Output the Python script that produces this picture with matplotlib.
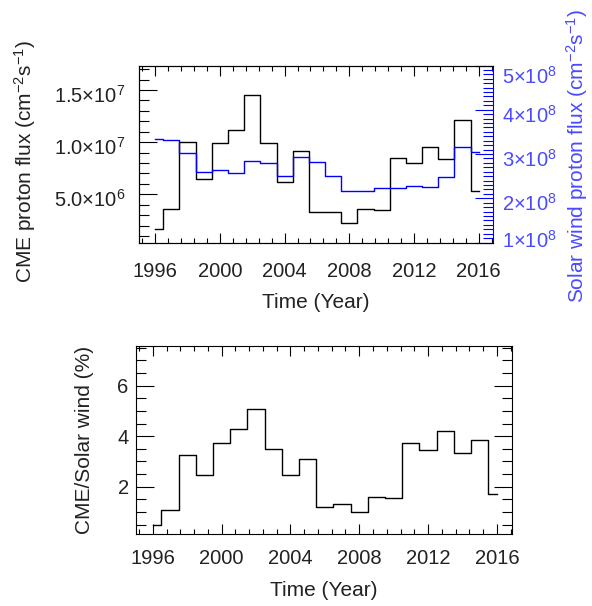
import matplotlib
matplotlib.use("Agg")
import matplotlib.pyplot as plt
from matplotlib.ticker import FixedLocator, FixedFormatter, MultipleLocator
from matplotlib.transforms import ScaledTranslation

plt.rcParams["font.family"] = ["Liberation Sans", "DejaVu Sans"]
plt.rcParams["mathtext.fontset"] = "custom"
plt.rcParams["mathtext.rm"] = "Liberation Sans"
plt.rcParams["mathtext.it"] = "Liberation Sans:italic"
plt.rcParams["mathtext.default"] = "regular"

years = list(range(1996, 2017))
cme_flux = [1.63e6, 3.61e6, 1.0e7, 6.49e6, 9.94e6, 1.115e7, 1.457e7, 9.94e6, 6.23e6, 9.20e6,
            3.33e6, 3.26e6, 2.21e6, 3.55e6, 3.48e6, 8.44e6, 8.03e6, 9.52e6, 8.37e6, 1.211e7, 5.30e6]
sw_flux = [3.33e8, 3.32e8, 3.02e8, 2.60e8, 2.63e8, 2.58e8, 2.85e8, 2.80e8, 2.50e8, 2.94e8,
           2.81e8, 2.50e8, 2.16e8, 2.17e8, 2.24e8, 2.24e8, 2.28e8, 2.25e8, 2.47e8, 3.15e8, 3.05e8]
ratio = [0.49, 1.07, 3.27, 2.45, 3.72, 4.27, 5.06, 3.51, 2.46, 3.09,
         1.18, 1.30, 0.99, 1.60, 1.54, 3.72, 3.47, 4.20, 3.34, 3.83, 1.72]

year_ticks = [1996, 2000, 2004, 2008, 2012, 2016]
cme_ticks = [5e6, 1e7, 1.5e7]
cme_labels = [r"5.0$\times$10$^{6}$", r"1.0$\times$10$^{7}$", r"1.5$\times$10$^{7}$"]
sw_ticks = [1e8, 2e8, 3e8, 4e8, 5e8]
sw_labels = [r"%d$\times$10$^{8}$" % k for k in range(1, 6)]
ratio_ticks = [2, 4, 6]

ink = "#222222"
blue = "#0000ff"
blue_text = "#4a4aff"
fs = 14.5
fs_title = 15

fig = plt.figure(figsize=(5.92, 6.06), dpi=100)
top = fig.add_axes([0.2348, 0.5998, 0.5985, 0.2921])
top_r = top.twinx()
bot = fig.add_axes([0.2292, 0.1188, 0.6362, 0.3102])

top.step(years, cme_flux, where="mid", color="black", lw=1.0)
top_r.step(years, sw_flux, where="mid", color=blue, lw=1.0)
bot.step(years, ratio, where="mid", color="black", lw=1.0)

for ax in (top, bot):
    ax.set_xlim(1995, 2016.9)
    ax.xaxis.set_major_locator(FixedLocator(year_ticks))
    ax.xaxis.set_minor_locator(MultipleLocator(0.8))
    ax.tick_params(axis="x", which="both", direction="in", top=True, labelsize=fs,
                   labelcolor=ink, width=0.8)
    ax.tick_params(axis="x", which="major", length=7)
    ax.tick_params(axis="x", which="minor", length=3.5)

top.tick_params(axis="x", pad=14)
bot.tick_params(axis="x", pad=11)

top.set_ylim(3.8e5, 1.735e7)
top.yaxis.set_major_locator(FixedLocator(cme_ticks))
top.yaxis.set_major_formatter(FixedFormatter(cme_labels))
top.yaxis.set_minor_locator(MultipleLocator(1e6))
top.tick_params(axis="y", which="both", direction="in", right=False, labelsize=fs,
                labelcolor=ink, width=0.8, pad=10)
top.tick_params(axis="y", which="major", length=13)
top.tick_params(axis="y", which="minor", length=7)
top.spines["right"].set_visible(False)

top_r.set_ylim(1e8, 5e8)
top_r.yaxis.set_major_locator(FixedLocator(sw_ticks))
top_r.yaxis.set_major_formatter(FixedFormatter(sw_labels))
top_r.yaxis.set_minor_locator(MultipleLocator(1e7))
top_r.tick_params(axis="y", which="both", direction="in", labelsize=fs, color=blue,
                  labelcolor=blue_text, width=0.8, pad=6)
top_r.tick_params(axis="y", which="major", length=13)
top_r.tick_params(axis="y", which="minor", length=7)
top_r.spines["right"].set_color(blue)

bot.set_ylim(0.127, 7.57)
bot.yaxis.set_major_locator(FixedLocator(ratio_ticks))
bot.yaxis.set_minor_locator(MultipleLocator(0.5))
bot.tick_params(axis="y", which="both", direction="in", right=True, labelsize=fs,
                labelcolor=ink, width=0.8, pad=5)
bot.tick_params(axis="y", which="major", length=13)
bot.tick_params(axis="y", which="minor", length=7)

# labels with superscripts sit a little lower in the original; the end labels of the
# right axis are pulled inside the axis range
def nudge(label, px):
    label.set_transform(label.get_transform() + ScaledTranslation(0, px / 100, fig.dpi_scale_trans))

for tick in top.yaxis.get_major_ticks():
    nudge(tick.label1, -4)
right_ticks = top_r.yaxis.get_major_ticks()
for i, tick in enumerate(right_ticks):
    if i == 0:
        nudge(tick.label2, 4)
    elif i == len(right_ticks) - 1:
        nudge(tick.label2, -9)
    else:
        nudge(tick.label2, -4)

top.set_xlabel("Time (Year)", fontsize=fs_title, color=ink, va="center")
top.xaxis.set_label_coords(0.5, -0.34)
top.set_ylabel(r"CME proton flux (cm$^{-2}$s$^{-1}$)", fontsize=fs_title, color=ink, va="center")
top.yaxis.set_label_coords(-0.322, 0.46)
top_r.set_ylabel(r"Solar wind proton flux (cm$^{-2}$s$^{-1}$)", fontsize=fs_title,
                 color=blue_text, va="center", rotation=90)
top_r.yaxis.set_label_coords(1.236, 0.49)

bot.set_xlabel("Time (Year)", fontsize=fs_title, color=ink, va="center")
bot.xaxis.set_label_coords(0.5, -0.298)
bot.set_ylabel("CME/Solar wind (%)", fontsize=fs_title, color=ink, va="center")
bot.yaxis.set_label_coords(-0.135, 0.5)

fig.savefig("out.png", dpi=100)
